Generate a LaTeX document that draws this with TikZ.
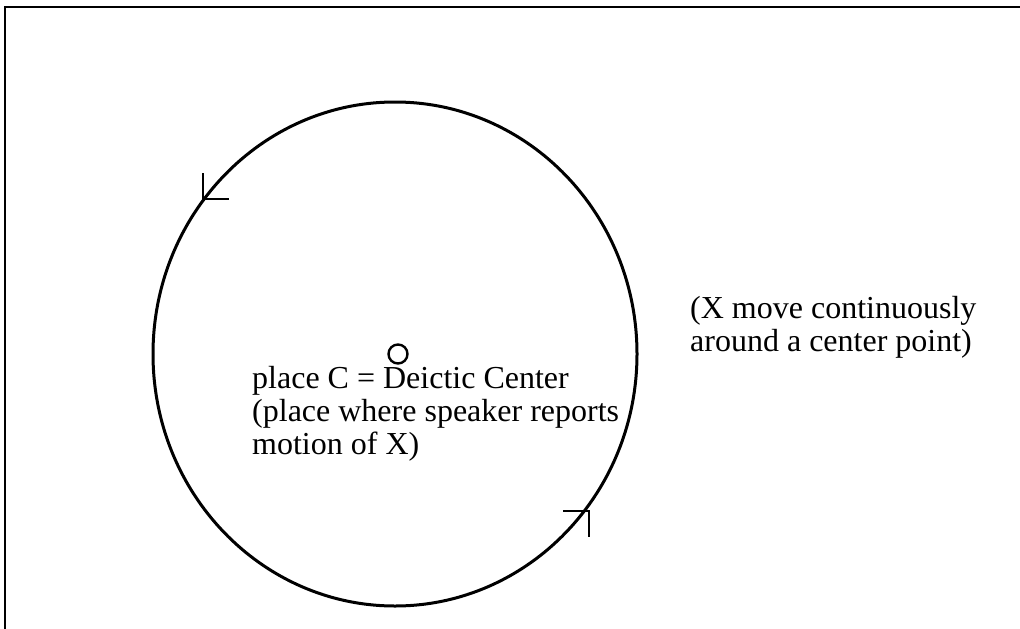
\documentclass[tikz,border=0pt]{standalone}
\usepackage{fontspec}
\setmainfont{Liberation Serif}
\begin{document}
\begin{tikzpicture}[x=1pt,y=-1pt,
  frameline/.style={line width=2.4pt},
  orbitline/.style={line width=3pt},
  tickline/.style={line width=2.8pt},
  label/.style={inner sep=0pt,align=left,font=\fontsize{32}{33}\selectfont}]
\useasboundingbox[fill=white] (0,0) rectangle (1020,629);
% frame (only top and left edges fall inside the picture)
\coordinate (ftl) at (5,7);
\coordinate (ftr) at (1020,7);
\coordinate (fbl) at (5,629);
\draw[frameline] (fbl) -- (ftl) -- (ftr);
% orbit
\coordinate (center) at (395,354);
\draw[orbitline] (center) ellipse [x radius=242, y radius=252];
% deictic center
\node[draw,circle,line width=2.4pt,minimum size=19pt,inner sep=0pt] (dc) at (398,354) {};
% direction ticks
\coordinate (a1) at (203,199);
\coordinate (a1u) at (203,173);
\coordinate (a1r) at (229,199);
\draw[tickline] (a1u) -- (a1) -- (a1r);
\coordinate (a2) at (589,511);
\coordinate (a2l) at (563,511);
\coordinate (a2d) at (589,537);
\draw[tickline] (a2l) -- (a2) -- (a2d);
% labels
\node[label,anchor=base west] (lc) at (252,454) {place C = Deictic Center\\(place where speaker reports\\motion of X)};
\node[label,anchor=base west] (lx) at (690,351) {(X move continuously\\around a center point)};
\end{tikzpicture}
\end{document}
